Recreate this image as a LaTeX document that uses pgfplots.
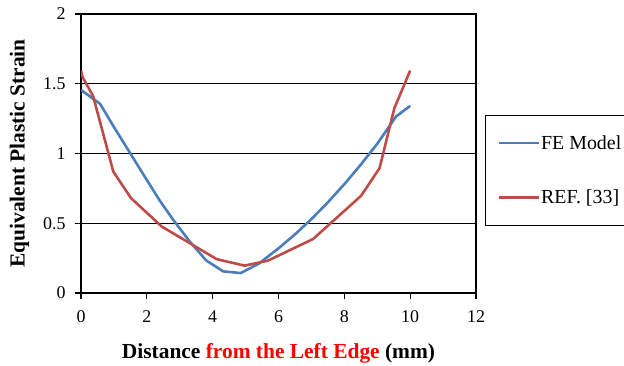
\documentclass[border=0pt]{standalone}
\usepackage{pgfplots}
\pgfplotsset{compat=1.18}
\usepackage{fontspec}
\setmainfont{Liberation Serif}
\definecolor{feblue}{RGB}{74,126,187}
\definecolor{refred}{RGB}{190,75,72}
\begin{document}
\begin{tikzpicture}
\useasboundingbox (-81bp,-73bp) rectangle (543bp,293bp);
\begin{axis}[
  at={(0,0)}, anchor=south west,
  width=395bp, height=279bp, scale only axis,
  xmin=0, xmax=12, ymin=0, ymax=2,
  xtick={0,2,...,12}, ytick={0,0.5,1,1.5,2},
  yticklabels={0,0.5,1,1.5,2},
  tick align=outside, major tick length=6bp,
  tick style={black, line width=1.2pt},
  ymajorgrids, grid style={black, line width=1.1pt},
  axis line style={black, line width=1.4pt},
  xtick pos=bottom, ytick pos=left,
  /pgf/number format/assume math mode=true,
  ticklabel style={font=\fontsize{18}{20}\selectfont},
  xticklabel style={yshift=-8bp},
  yticklabel style={xshift=-6bp},
  xlabel={\textbf{Distance \textcolor{red}{from the Left Edge} (mm)}},
  ylabel={\textbf{Equivalent Plastic Strain}},
  label style={font=\fontsize{21.5}{24}\selectfont},
  xlabel style={yshift=-14bp},
  ylabel style={yshift=7bp},
  legend style={at={(1.0228,0.638)}, anchor=north west, draw=black, line width=1pt,
    font=\fontsize{20}{22}\selectfont, row sep=37bp, inner xsep=12bp, inner ysep=19bp,
    nodes={inner sep=1bp}, cells={anchor=west}},
  legend image code/.code={\draw[#1, line width=2.6pt] (0bp,0bp) -- (40bp,0bp);},
]
\addplot[feblue, line width=2.6pt] coordinates {
(0,1.456) (0.58,1.356) (1.0,1.19) (1.5,1.0) (2.0,0.81) (2.4,0.66) (2.8,0.525)
(3.3,0.37) (3.8,0.234) (4.32,0.155) (4.85,0.143) (5.4,0.21) (6.0,0.32)
(6.5,0.42) (7.0,0.53) (7.5,0.65) (8.0,0.78) (8.5,0.92) (9.0,1.07) (9.57,1.265) (10.0,1.341)
};
\addlegendentry{FE Model}
\addplot[refred, line width=2.6pt] coordinates {
(0,1.594) (0.05,1.547) (0.37,1.41) (0.98,0.871) (1.52,0.68) (2.45,0.477)
(3.3,0.358) (4.12,0.243) (4.97,0.196) (5.68,0.232) (7.05,0.387) (8.51,0.697)
(9.07,0.895) (9.52,1.325) (10.0,1.594)
};
\addlegendentry{REF. [33]}
\end{axis}
\end{tikzpicture}
\end{document}
